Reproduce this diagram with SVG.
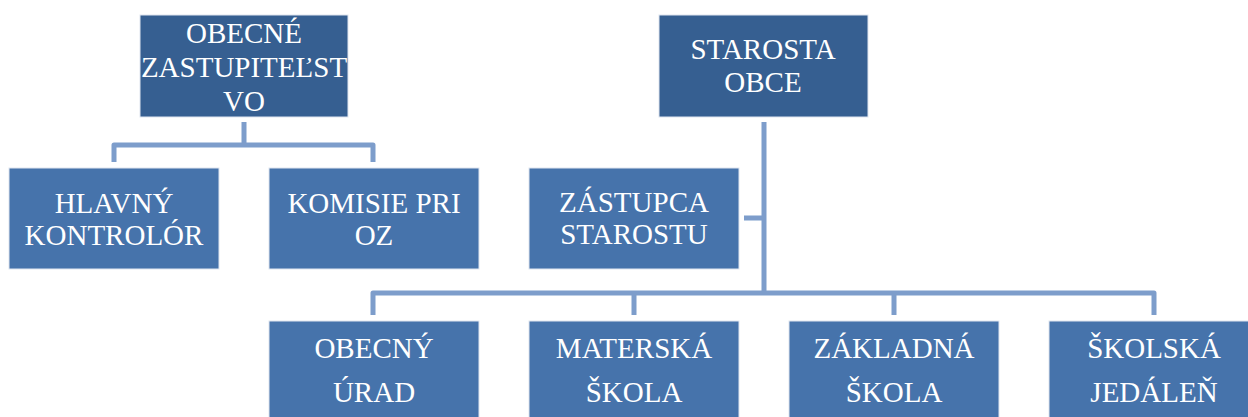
<svg xmlns="http://www.w3.org/2000/svg" width="1248" height="417" viewBox="0 0 1248 417">
<style>
.dark{fill:#365f91;stroke:#dfe6f0;stroke-width:1}
.light{fill:#4673ab;stroke:#dfe6f0;stroke-width:1}
.t{font-family:"Liberation Serif","DejaVu Serif",serif;font-size:29px;fill:#ffffff;text-anchor:middle}
.c{fill:none;stroke:#7d9dcb;stroke-width:5;stroke-linejoin:round}
</style>
<rect width="1248" height="417" fill="#ffffff"/>
<g id="connectors">
<path class="c" d="M244,122 V145 M114,162 V145 H373 V162"/>
<path class="c" d="M764,122 V293 M744,218 H764 M373,315 V293 H1154 V315 M634,293 V315 M894,293 V315"/>
</g>
<g id="obecne-zastupitelstvo">
<rect class="dark" x="140" y="15" width="208" height="102"/>
<text class="t" x="244" y="43">OBECNÉ</text>
<text class="t" x="244" y="77">ZASTUPITEĽST</text>
<text class="t" x="244" y="111">VO</text>
</g>
<g id="starosta-obce">
<rect class="dark" x="659" y="15" width="209" height="102"/>
<text class="t" x="763" y="59">STAROSTA</text>
<text class="t" x="763" y="92">OBCE</text>
</g>
<g id="hlavny-kontrolor">
<rect class="light" x="9" y="168" width="210" height="101"/>
<text class="t" x="114" y="213">HLAVNÝ</text>
<text class="t" x="114" y="245">KONTROLÓR</text>
</g>
<g id="komisie-pri-oz">
<rect class="light" x="269" y="168" width="210" height="101"/>
<text class="t" x="374" y="213">KOMISIE PRI</text>
<text class="t" x="374" y="245">OZ</text>
</g>
<g id="zastupca-starostu">
<rect class="light" x="529" y="168" width="210" height="101"/>
<text class="t" x="634" y="212">ZÁSTUPCA</text>
<text class="t" x="634" y="244">STAROSTU</text>
</g>
<g id="obecny-urad">
<rect class="light" x="269" y="321" width="210" height="101"/>
<text class="t" x="374" y="358">OBECNÝ</text>
<text class="t" x="374" y="402">ÚRAD</text>
</g>
<g id="materska-skola">
<rect class="light" x="529" y="321" width="210" height="101"/>
<text class="t" x="634" y="358">MATERSKÁ</text>
<text class="t" x="634" y="402">ŠKOLA</text>
</g>
<g id="zakladna-skola">
<rect class="light" x="789" y="321" width="210" height="101"/>
<text class="t" x="894" y="358">ZÁKLADNÁ</text>
<text class="t" x="894" y="402">ŠKOLA</text>
</g>
<g id="skolska-jedalen">
<rect class="light" x="1049" y="321" width="210" height="101"/>
<text class="t" x="1154" y="358">ŠKOLSKÁ</text>
<text class="t" x="1154" y="402">JEDÁLEŇ</text>
</g>
</svg>
